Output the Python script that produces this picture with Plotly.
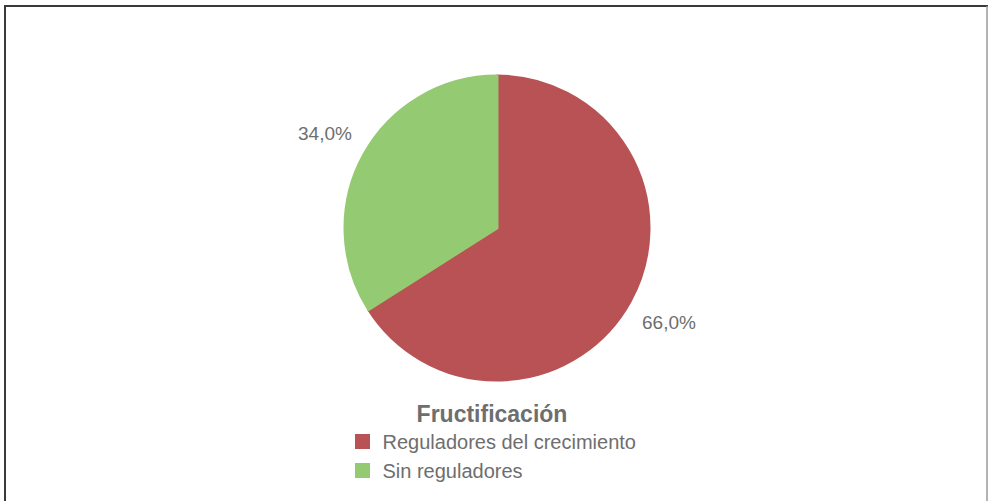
import math
import plotly.graph_objects as go

categories = ["Reguladores del crecimiento", "Sin reguladores"]
values = [66.0, 34.0]
colors = ["#B85254", "#94CA72"]
legend_title = "Fructificación"

W, H = 988, 501
cx, cy, r = 497, 228, 152
label_dist = 196
FONT = "Liberation Sans, Arial, sans-serif"

fig = go.Figure(go.Pie(
    labels=categories,
    values=values,
    marker=dict(colors=colors, line=dict(width=3, color=colors)),
    sort=False,
    direction="clockwise",
    rotation=0,
    textposition="none",
    hoverinfo="label+percent",
    domain=dict(x=[(cx - r) / W, (cx + r) / W], y=[1 - (cy + r) / H, 1 - (cy - r) / H]),
))

# percentage labels placed along each slice's mid-angle
total = sum(values)
annotations = []
cum = 0.0
for v in values:
    mid = (cum + v / 2) / total * 2 * math.pi
    cum += v
    px = cx + label_dist * math.sin(mid)
    py = cy - label_dist * math.cos(mid)
    annotations.append(dict(
        x=px / W, y=1 - py / H, xref="paper", yref="paper",
        text=f"{v / total * 100:.1f}%".replace(".", ","),
        showarrow=False, xanchor="center", yanchor="middle",
        font=dict(family=FONT, size=19, color="#6e6e6e"),
    ))

fig.update_layout(
    width=W, height=H,
    margin=dict(l=0, r=0, t=0, b=0),
    paper_bgcolor="white",
    showlegend=True,
    annotations=annotations,
    legend=dict(
        title=dict(text="<b>" + legend_title + "</b>", side="top center",
                   font=dict(family=FONT, size=23, color="#6e6e6e")),
        font=dict(family=FONT, size=20, color="#6e6e6e"),
        orientation="v",
        x=(362.5 - 20) / W, xanchor="left", y=1 - 392 / H, yanchor="top",
        tracegroupgap=0,
    ),
    shapes=[
        dict(type="line", xref="paper", yref="paper", x0=5 / W, x1=5 / W, y0=-0.02, y1=1 - 5 / H,
             line=dict(color="#3a3a3a", width=2)),
        dict(type="line", xref="paper", yref="paper", x0=4 / W, x1=1.0, y0=1 - 6 / H, y1=1 - 6 / H,
             line=dict(color="#3a3a3a", width=2)),
        dict(type="line", xref="paper", yref="paper", x0=987 / W, x1=987 / W, y0=-0.02, y1=1 - 6 / H,
             line=dict(color="#9a9a9a", width=1.5)),
    ],
)

fig.write_html("out.html", config={"displayModeBar": False},
               post_script="document.body.style.margin='0';")
